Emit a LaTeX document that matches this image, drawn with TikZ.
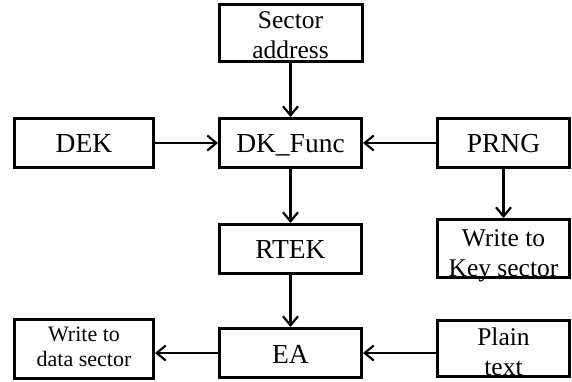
\documentclass[tikz,border=0pt]{standalone}
\usepackage{fontspec}
\setmainfont{Liberation Serif}
\usetikzlibrary{arrows.meta}
\tikzset{
  box/.style={draw=black, line width=3pt, rectangle, inner sep=0pt, align=center, text depth=0pt},
  big/.style={font=\fontsize{27.5}{30}\selectfont, text height=20pt},
  two/.style={font=\fontsize{25.5}{30}\selectfont},
  small/.style={font=\fontsize{22}{25}\selectfont},
  arr/.style={line width=2.2pt, -{Straight Barb[length=9pt,width=15pt]}}
}
\begin{document}
\begin{tikzpicture}[x=1pt,y=-1pt]
\useasboundingbox (0,0) rectangle (572,382);
\node[box,two,minimum width=143pt,minimum height=57pt,text height=51pt] (sa) at (290.5,33) {Sector\\address};
\node[box,big,minimum width=139pt,minimum height=49pt] (dek) at (84,143) {DEK};
\node[box,big,minimum width=142pt,minimum height=49pt] (dk) at (290.5,143) {DK\_Func};
\node[box,big,minimum width=132pt,minimum height=49pt] (prng) at (503.5,143) {PRNG};
\node[box,big,minimum width=142pt,minimum height=49pt,text height=18pt] (rtek) at (290.5,249) {RTEK};
\node[box,two,minimum width=132pt,minimum height=58pt,text height=55pt] (wks) at (503.5,248.5) {Write to\\Key sector};
\node[box,small,minimum width=139pt,minimum height=59pt,text height=34pt] (wds) at (84,349) {Write to\\data sector};
\node[box,big,minimum width=142pt,minimum height=49pt] (ea) at (290.5,353) {EA};
\node[box,two,minimum width=132pt,minimum height=56pt,text height=53pt] (pt) at (503.5,348.5) {Plain\\text};
\draw[arr] (sa) -- (dk);
\draw[arr] (dek) -- (dk);
\draw[arr] (prng) -- (dk);
\draw[arr] (dk) -- (rtek);
\draw[arr] (prng.south) -- (prng.south |- wks.north);
\draw[arr] (rtek) -- (ea);
\draw[arr] (ea.west) -- (ea.west -| wds.east);
\draw[arr] (ea.east -| pt.west) -- (ea.east);
\end{tikzpicture}
\end{document}
